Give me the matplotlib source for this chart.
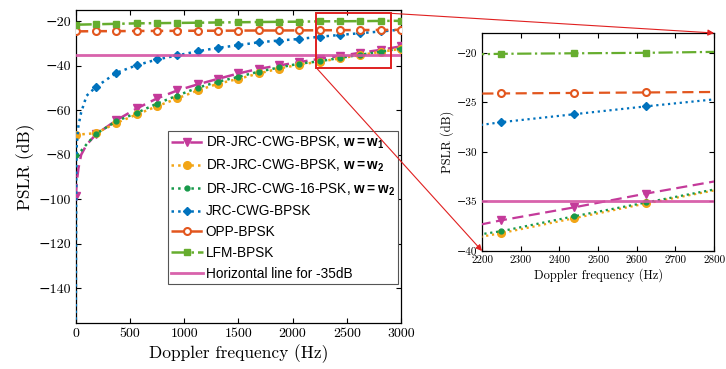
import matplotlib
matplotlib.use("Agg")
import matplotlib.pyplot as plt
from matplotlib.patches import Rectangle, ConnectionPatch

# CM for axes text, DejaVu Serif only supplies the minus sign
plt.rcParams['font.family'] = ['cmr10', 'DejaVu Serif']
plt.rcParams['mathtext.fontset'] = 'custom'
plt.rcParams['mathtext.rm'] = 'Liberation Sans'
plt.rcParams['mathtext.bf'] = 'Liberation Sans:bold'
plt.rcParams['axes.formatter.use_mathtext'] = False
plt.rcParams['axes.unicode_minus'] = True

# Doppler frequency grid (Hz) and the extra samples close to 0 Hz
freq = [0, 187.5, 375, 562.5, 750, 937.5, 1125, 1312.5, 1500, 1687.5,
        1875, 2062.5, 2250, 2437.5, 2625, 2812.5, 3000]
near0_freq = [5, 10, 25, 50, 100]

# PSLR (dB)
pslr_w1 = [-98.6, -70.8, -64.5, -59.2, -54.7, -51.1, -48.4, -45.9, -43.5,
           -41.4, -39.9, -38.4, -36.9, -35.6, -34.2, -32.9, -31.3]
pslr_w1_near0 = [-95, -92, -86, -80, -75.5]
pslr_w2 = [-71.0, -70.3, -65.7, -61.9, -58.2, -54.7, -51.1, -48.1, -45.9,
           -43.5, -41.3, -39.5, -38.2, -36.7, -35.2, -33.8, -32.4]
pslr_16psk = [-80.2, -70.6, -64.9, -61.2, -57.0, -53.4, -49.9, -47.2, -45.0,
              -42.7, -40.8, -39.1, -38.0, -36.5, -35.1, -33.7, -32.3]
pslr_16psk_near0 = [-80, -79.8, -79.3, -78.2, -75.3]
pslr_jrc = [-160, -49.5, -43.2, -39.8, -37.2, -35.4, -33.5, -32.0, -30.8,
            -29.5, -28.7, -28.0, -27.0, -26.2, -25.4, -24.65, -23.8]
pslr_jrc_near0 = [-90, -75, -67, -61, -53.5]
pslr_opp = [-24.6, -24.5, -24.5, -24.4, -24.4, -24.35, -24.3, -24.3, -24.25,
            -24.2, -24.2, -24.15, -24.1, -24.05, -24.0, -23.95, -23.9]
pslr_lfm = [-21.6, -21.4, -21.2, -21.0, -20.9, -20.8, -20.7, -20.6, -20.5,
            -20.4, -20.3, -20.25, -20.1, -20.05, -20.0, -19.9, -19.85]
threshold = -35

labels = ['DR-JRC-CWG-BPSK, $\\mathbf{w{=}w_1}$',
          'DR-JRC-CWG-BPSK, $\\mathbf{w{=}w_2}$',
          'DR-JRC-CWG-16-PSK, $\\mathbf{w{=}w_2}$',
          'JRC-CWG-BPSK', 'OPP-BPSK', 'LFM-BPSK',
          'Horizontal line for -35dB']


def with_near0(vals, near):
    if near is None:
        return freq, vals, None
    x = freq[:1] + near0_freq + freq[1:]
    y = vals[:1] + near + vals[1:]
    marks = [0] + list(range(len(near0_freq) + 1, len(x)))
    return x, y, marks


series = [
    (pslr_w1, pslr_w1_near0, dict(color='#C43A9A', ls=(0, (5, 2.5)), marker='v', ms=6)),
    (pslr_w2, None, dict(color='#F2A516', ls=':', marker='o', ms=5.5)),
    (pslr_16psk, pslr_16psk_near0, dict(color='#17994A', ls=':', marker='o', ms=3.5)),
    (pslr_jrc, pslr_jrc_near0, dict(color='#0072BD', ls=':', marker='D', ms=4.5)),
    (pslr_opp, None, dict(color='#E2561E', ls=(0, (5, 2.5)), marker='o', ms=5,
                          mfc='white', mew=1.5)),
    (pslr_lfm, None, dict(color='#66AD2E', ls='-.', marker='s', ms=4.5)),
]


def draw(ax, lw):
    for (vals, near, st), lab in zip(series, labels):
        x, y, marks = with_near0(vals, near)
        ax.plot(x, y, lw=lw, markevery=marks, label=lab, zorder=3, **st)
    ax.axhline(threshold, color='#D452A3', lw=2, alpha=0.9, label=labels[-1],
               zorder=3)
    ax.tick_params(direction='in', top=True, right=True, length=3.5, width=0.8)
    for s in ax.spines.values():
        s.set_linewidth(0.9)


fig = plt.figure(figsize=(7.26, 3.69), dpi=100)
ax = fig.add_axes([0.1043, 0.1247, 0.448, 0.8482])
draw(ax, 1.8)
ax.set_xlim(0, 3000)
ax.set_ylim(-155.5, -15)
ax.set_xticks(range(0, 3001, 500))
ax.set_yticks(range(-140, -19, 20))
ax.tick_params(labelsize=10)
ax.set_xlabel('Doppler frequency (Hz)', fontsize=12.5, labelpad=3)
ax.set_ylabel('PSLR (dB)', fontsize=12.5, labelpad=2)

leg = ax.legend(loc='upper left', bbox_to_anchor=(0.284, 0.612),
                prop={'family': 'Liberation Sans', 'size': 9.8},
                fancybox=False, framealpha=1, edgecolor='#555555',
                handlelength=2.3, handletextpad=0.2, borderpad=0.25,
                labelspacing=0.5, borderaxespad=0)
leg.get_frame().set_linewidth(0.8)
leg.set_zorder(6)

# zoom box on the main axes
rect = Rectangle((2220, -41), 690, 24.5, fill=False, ec='#E02020', lw=1.4, zorder=5)
ax.add_patch(rect)

axin = fig.add_axes([0.664, 0.3198, 0.3196, 0.5908])
draw(axin, 1.6)
axin.set_xlim(2200, 2800)
axin.set_ylim(-40, -18)
axin.set_xticks(range(2200, 2801, 100))
axin.set_yticks(range(-40, -19, 5))
axin.tick_params(labelsize=8)
axin.set_xlabel('Doppler frequency (Hz)', fontsize=9, labelpad=2)
axin.set_ylabel('PSLR (dB)', fontsize=9, labelpad=2)

for pa, pb in [((2910, -16.5), (1, 1)), ((2220, -41), (0, 0))]:
    con = ConnectionPatch(xyA=pa, coordsA=ax.transData, xyB=pb,
                          coordsB=axin.transAxes, color='#E02020', lw=0.8,
                          arrowstyle='-|>', mutation_scale=9)
    fig.add_artist(con)

fig.savefig('out.png', dpi=100, facecolor='white')
